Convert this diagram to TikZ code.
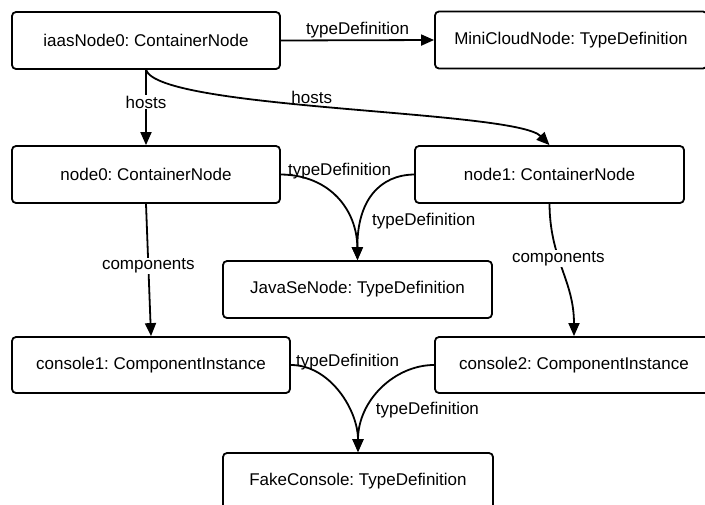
\documentclass[tikz,border=0pt]{standalone}
\usepackage{fontspec}
\setmainfont{Liberation Sans}
\usetikzlibrary{arrows.meta}
\frenchspacing
\begin{document}
\begin{tikzpicture}[x=1pt,y=-1pt,
  box/.style={draw=black,line width=1.8pt,rounded corners=4pt,fill=white,
    minimum height=57pt,inner sep=0pt,font=\fontsize{17}{20}\selectfont},
  edge/.style={line width=1.8pt,-{Triangle[length=13pt,width=11pt]}},
  lbl/.style={font=\fontsize{17}{20}\selectfont,inner sep=1pt},
  onlbl/.style={lbl,fill=white}]
\useasboundingbox (0,0) rectangle (705,504);
\node[box,minimum width=268pt] (iaas) at (146,40.5) {iaasNode0: ContainerNode};
\node[box,minimum width=272pt] (mini) at (571,40) {MiniCloudNode: TypeDefinition};
\node[box,minimum width=268pt] (node0) at (146,174.5) {node0: ContainerNode};
\node[box,minimum width=269pt] (node1) at (549.5,174.5) {node1: ContainerNode};
\node[box,minimum width=269pt] (java) at (357.5,289.5) {JavaSeNode: TypeDefinition};
\node[box,minimum width=278pt,minimum height=56pt] (c1) at (151,365) {console1: ComponentInstance};
\node[box,minimum width=278pt,minimum height=56pt] (c2) at (574,365) {console2: ComponentInstance};
\node[box,minimum width=270pt] (fake) at (358,481.5) {FakeConsole: TypeDefinition};

\draw[edge] (iaas.east) -- node[lbl,above] {typeDefinition} (mini.west);
\draw[edge] (iaas.south) -- node[onlbl,pos=0.43] {hosts} (node0.north);
\draw[edge] (iaas.south) .. controls (160,110) and (515,110) .. node[lbl,pos=0.45,anchor=south,yshift=1pt] {hosts} (node1.north);
\draw[edge] (node0.east) .. controls (330,175) and (357,210) .. (java.north);
\path (node0.east) node[lbl,anchor=west,xshift=6pt,yshift=3pt] {typeDefinition};
\draw[edge] (node1.west) .. controls (380,175) and (357,200) .. node[lbl,pos=0.75,anchor=west,xshift=9pt] {typeDefinition} (java.north);
\draw[edge] (node0.south) -- node[onlbl,pos=0.47] {components} (c1.north);
\draw[edge] (node1.south) .. controls (550,260) and (574,280) .. node[onlbl,pos=0.4] {components} (c2.north);
\draw[edge] (c1.east) .. controls (330,365) and (358,410) .. (fake.north);
\path (c1.east) node[lbl,anchor=west,xshift=4pt,yshift=3pt] {typeDefinition};
\draw[edge] (c2.west) .. controls (395,365) and (358,400) .. node[lbl,pos=0.7,anchor=west,xshift=7pt] {typeDefinition} (fake.north);
\end{tikzpicture}
\end{document}
